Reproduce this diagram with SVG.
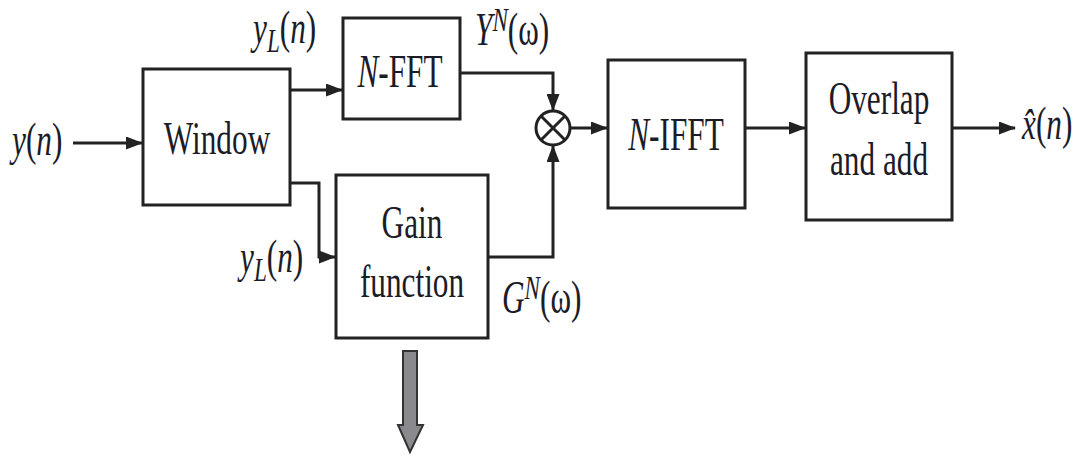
<svg xmlns="http://www.w3.org/2000/svg" width="1090" height="459" viewBox="0 0 1090 459">
<style>
.box{fill:#fff;stroke:#222;stroke-width:3}
.ln{fill:none;stroke:#222;stroke-width:3}
.t{font-family:"Liberation Serif",serif;font-size:46px;fill:#1c1c28}
.i{font-style:italic}
.s{font-size:34px}
</style>
<defs>
<marker id="ah" viewBox="0 0 17 13" refX="16" refY="6.5" markerWidth="17" markerHeight="13" markerUnits="userSpaceOnUse" orient="auto">
<path d="M0,0 L17,6.5 L0,13 Z" fill="#222"/>
</marker>
</defs>
<rect width="1090" height="459" fill="#fff"/>
<g id="connectors">
<path class="ln" d="M73,143 H142" marker-end="url(#ah)"/>
<path class="ln" d="M290,90 H342" marker-end="url(#ah)"/>
<path class="ln" d="M290,183 H319 V257 H335" marker-end="url(#ah)"/>
<path class="ln" d="M460,73 H553 V110" marker-end="url(#ah)"/>
<path class="ln" d="M488,257 H553 V146" marker-end="url(#ah)"/>
<path class="ln" d="M570,128 H607" marker-end="url(#ah)"/>
<path class="ln" d="M745,128 H805" marker-end="url(#ah)"/>
<path class="ln" d="M952,128 H1015" marker-end="url(#ah)"/>
<path d="M403,351 H417 V425 H423 L410,452 L398,425 H403 Z" fill="#8a8a8e" stroke="#333" stroke-width="2"/>
</g>
<g id="window">
<rect class="box" x="143" y="69" width="147" height="136"/>
<text class="t" text-anchor="middle" transform="matrix(0.68 0 0 1 217 154)">Window</text>
</g>
<g id="nfft">
<rect class="box" x="343" y="18" width="117" height="101"/>
<text class="t" text-anchor="middle" transform="matrix(0.68 0 0 1 400 87)"><tspan class="i">N</tspan>-FFT</text>
</g>
<g id="gain">
<rect class="box" x="336" y="175" width="152" height="163"/>
<text class="t" text-anchor="middle" transform="matrix(0.68 0 0 1 412 238)">Gain</text>
<text class="t" text-anchor="middle" transform="matrix(0.68 0 0 1 412 297)">function</text>
</g>
<g id="mult">
<circle cx="553" cy="128" r="17" fill="#fff" stroke="#222" stroke-width="3"/>
<path class="ln" d="M541,116 L565,140 M565,116 L541,140" stroke-width="2.5"/>
</g>
<g id="nifft">
<rect class="box" x="608" y="60" width="137" height="148"/>
<text class="t" text-anchor="middle" transform="matrix(0.68 0 0 1 676 150)"><tspan class="i">N</tspan>-IFFT</text>
</g>
<g id="overlap">
<rect class="box" x="806" y="53" width="146" height="167"/>
<text class="t" text-anchor="middle" transform="matrix(0.68 0 0 1 879 114)">Overlap</text>
<text class="t" text-anchor="middle" transform="matrix(0.68 0 0 1 879 175)">and add</text>
</g>
<g id="labels">
<text class="t" transform="matrix(0.68 0 0 1 12 155)"><tspan class="i">y</tspan>(<tspan class="i">n</tspan>)</text>
<text class="t" transform="matrix(0.68 0 0 1 253 43)"><tspan class="i">y</tspan><tspan class="i s" dy="9">L</tspan><tspan dy="-9">(</tspan><tspan class="i">n</tspan>)</text>
<text class="t" transform="matrix(0.68 0 0 1 240 272)"><tspan class="i">y</tspan><tspan class="i s" dy="9">L</tspan><tspan dy="-9">(</tspan><tspan class="i">n</tspan>)</text>
<text class="t" transform="matrix(0.68 0 0 1 475 45)"><tspan class="i">Y</tspan><tspan class="i s" dy="-14">N</tspan><tspan dy="14">(ω)</tspan></text>
<text class="t" transform="matrix(0.68 0 0 1 502 313)"><tspan class="i">G</tspan><tspan class="i s" dy="-14">N</tspan><tspan dy="14">(ω)</tspan></text>
<text class="t" transform="matrix(0.68 0 0 1 1022 139)"><tspan class="i">x̂</tspan>(<tspan class="i">n</tspan>)</text>
</g>
</svg>
